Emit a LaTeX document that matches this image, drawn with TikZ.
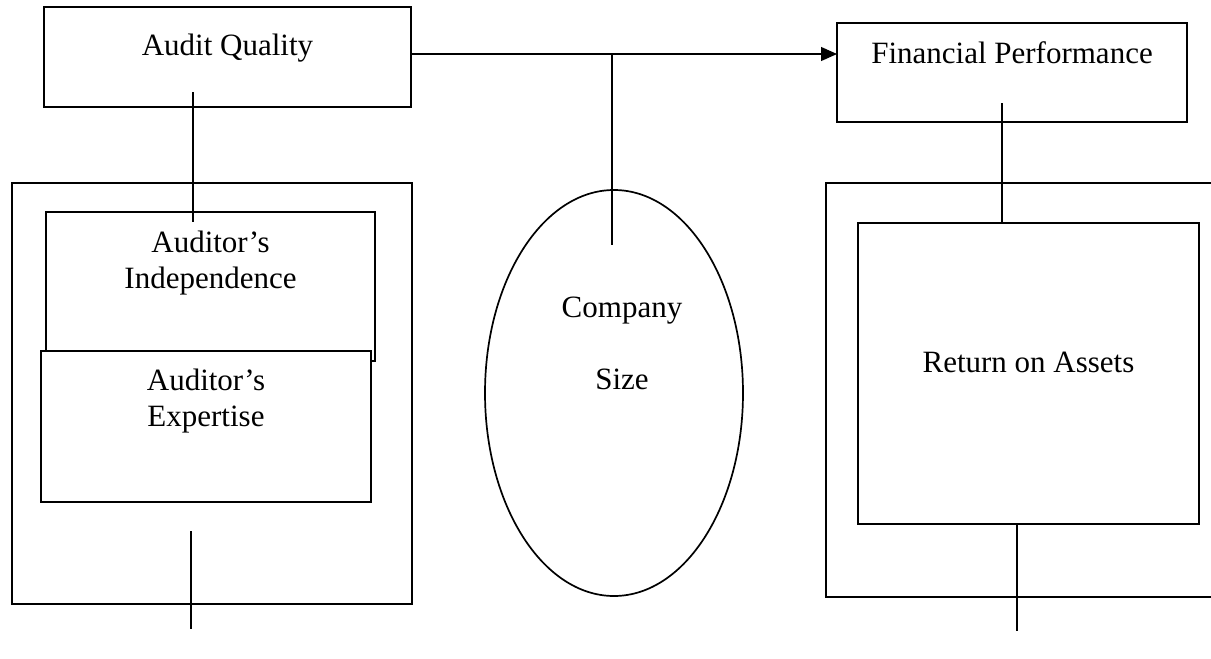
\documentclass[tikz,border=0pt]{standalone}
\usepackage{fontspec}
\setmainfont{Liberation Serif}
\usetikzlibrary{shapes,arrows.meta,positioning}

\begin{document}
\begin{tikzpicture}[x=1pt,y=-1pt]
\tikzset{box/.style={draw, rectangle, line width=1.9pt, inner sep=0pt, outer sep=0pt},
  boxtext/.style={inner sep=0pt, outer sep=0pt, align=center, font=\fontsize{31}{36}\selectfont},
  link/.style={line width=1.2pt}}
\useasboundingbox (0,0) rectangle (1211,659);
\clip (0,0) rectangle (1211,659);
% independent variable
\node[box, minimum width=367pt, minimum height=100pt] (quality) at (227.5,57) {};
\node[boxtext, below=27pt of quality.north] (qualitytext) {Audit Quality};
\node[box, minimum width=400pt, minimum height=421pt] (leftframe) at (212,393.5) {};
\node[box, minimum width=329pt, minimum height=149pt] (indep) at (210.5,286.5) {};
\node[boxtext, below=19pt of indep.north] (indeptext) {Auditor’s\\Independence};
\node[box, fill=white, minimum width=330pt, minimum height=151pt] (expert) at (206,426.5) {};
\node[boxtext, below=18pt of expert.north] (experttext) {Auditor’s\\Expertise};
% control variable
\node[ellipse, draw, line width=1.7pt, inner sep=0pt, outer sep=0pt,
  minimum width=258pt, minimum height=406pt] (sizeoval) at (614,393) {};
\node[boxtext, below=107pt of sizeoval.north, xshift=8pt] (sizetext) {Company\\[36pt]Size};
% dependent variable
\node[box, minimum width=350pt, minimum height=99pt] (finperf) at (1012,72.5) {};
\node[boxtext, below=19pt of finperf.north] (finperftext) {Financial Performance};
\node[box, minimum width=400pt, minimum height=414pt] (rightframe) at (1026,390) {};
\node[box, minimum width=341pt, minimum height=301pt] (roa) at (1028.5,373.5) {};
\node[boxtext, below=129pt of roa.north] (roatext) {Return on Assets};
% links
\coordinate (arrowstart) at ([yshift=3pt]quality.east);
\draw[link, -{Triangle[length=16pt,width=14pt]}] (arrowstart) -- (arrowstart -| finperf.west);
\coordinate (qualitydrop) at (193,92);
\draw[link] (qualitydrop) -- ++(0,130);
\coordinate (sizedrop) at (612,53);
\draw[link] (sizedrop) -- ++(0,192);
\coordinate (finperfdrop) at (1002,103);
\draw[link] (finperfdrop) -- (finperfdrop |- roa.north);
\coordinate (leftdrop) at (191,531);
\draw[link] (leftdrop) -- ++(0,98);
\draw[link] ([xshift=-11.5pt]roa.south) -- ++(0,107);
\end{tikzpicture}
\end{document}
